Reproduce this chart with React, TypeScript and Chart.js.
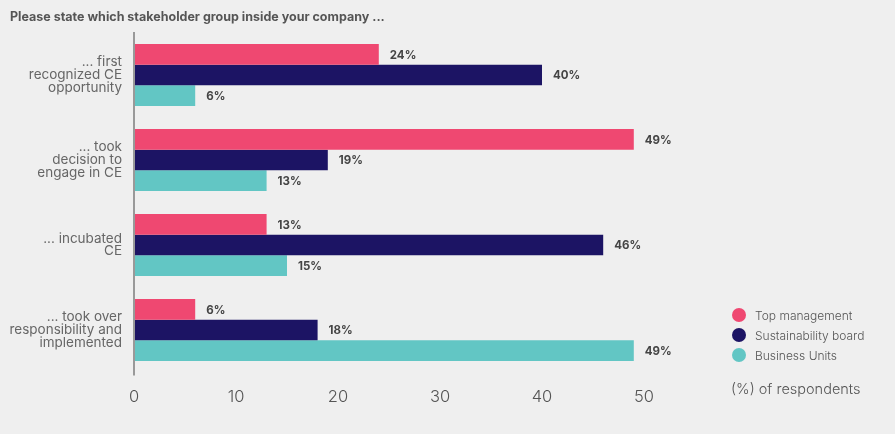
import React, { useEffect, useRef } from "react";
import { Chart, registerables } from "chart.js";

Chart.register(...registerables);

const categories: string[][] = [
  ["... first", "recognized CE", "opportunity"],
  ["... took", "decision to", "engage in CE"],
  ["... incubated", "CE"],
  ["... took over", "responsibility and", "implemented"],
];
const seriesNames = ["Top management", "Sustainability board", "Business Units"];
const topManagement = [24, 49, 13, 6];
const sustainabilityBoard = [40, 19, 46, 18];
const businessUnits = [6, 13, 15, 49];
const colors = ["#ef4871", "#1c1464", "#62c6c4"];
const xTicks = [0, 10, 20, 30, 40, 50];

const FONT = "Inter, 'Noto Sans', sans-serif";

const valueLabels = {
  id: "valueLabels",
  afterDatasetsDraw(chart: any) {
    const ctx = chart.ctx;
    ctx.save();
    ctx.font = `bold 11.5px ${FONT}`;
    ctx.fillStyle = "#444";
    ctx.textAlign = "left";
    ctx.textBaseline = "middle";
    chart.data.datasets.forEach((ds: any, i: number) => {
      const meta = chart.getDatasetMeta(i);
      meta.data.forEach((bar: any, j: number) => {
        ctx.fillText(ds.data[j] + "%", bar.x + 11, bar.y + 1);
      });
    });
    ctx.restore();
  },
};

export default function App() {
  const ref = useRef<HTMLCanvasElement>(null);
  useEffect(() => {
    const seriesData = [topManagement, sustainabilityBoard, businessUnits];
    const chart = new Chart(ref.current!, {
      type: "bar",
      data: {
        labels: categories,
        datasets: seriesNames.map((n, i) => ({
          label: n,
          data: seriesData[i],
          backgroundColor: colors[i],
          borderWidth: 0,
          categoryPercentage: 0.73,
          barPercentage: 1.0,
        })),
      },
      options: {
        indexAxis: "y",
        animation: false,
        responsive: false,
        maintainAspectRatio: false,
        layout: { padding: { top: 32.5, right: 251, left: 0, bottom: 0 } },
        plugins: { legend: { display: false }, tooltip: { enabled: false } },
        scales: {
          x: {
            min: 0,
            max: 50,
            afterFit(scale: any) {
              scale.height = 61.5;
            },
            afterBuildTicks(scale: any) {
              scale.ticks = xTicks.map((v) => ({ value: v }));
            },
            border: { display: false },
            grid: {
              display: true,
              drawOnChartArea: false,
              drawTicks: true,
              tickLength: 3,
              lineWidth: 2,
              color: (c: any) => (c.tick && c.tick.value === 0 ? "#999" : "transparent"),
            },
            ticks: {
              padding: 12,
              color: "#555",
              font: { family: FONT, size: 16.5, weight: "300" },
            },
          },
          y: {
            afterFit(scale: any) {
              scale.width = 134;
            },
            border: { display: true, color: "#999", width: 2 },
            grid: { display: false },
            ticks: {
              padding: 4,
              color: "#666",
              font: { family: FONT, size: 13.5, weight: "400", lineHeight: 0.94 },
            },
          },
        },
      } as any,
      plugins: [valueLabels],
    });
    return () => chart.destroy();
  }, []);

  return (
    <div
      style={{
        position: "fixed",
        left: 0,
        top: 0,
        width: 895,
        height: 434,
        background: "#efefef",
        fontFamily: FONT,
      }}
    >
      <canvas ref={ref} width={895} height={434} style={{ position: "absolute", left: 0, top: 0 }} />
      <div
        style={{
          position: "absolute",
          left: 10,
          top: 9,
          fontSize: 12.5,
          fontWeight: 700,
          color: "#555",
          whiteSpace: "nowrap",
        }}
      >
        Please state which stakeholder group inside your company ...
      </div>
      {seriesNames.map((n, i) => (
        <div
          key={n}
          style={{
            position: "absolute",
            left: 732,
            top: 305 + i * 20,
            height: 20,
            display: "flex",
            alignItems: "center",
            fontSize: 12,
            fontWeight: 300,
            color: "#555",
            whiteSpace: "nowrap",
          }}
        >
          <span
            style={{
              display: "inline-block",
              width: 14,
              height: 14,
              borderRadius: 7,
              background: colors[i],
              marginRight: 9,
            }}
          />
          {n}
        </div>
      ))}
      <div
        style={{
          position: "absolute",
          left: 731,
          top: 380,
          fontSize: 14.5,
          fontWeight: 300,
          color: "#555",
          whiteSpace: "nowrap",
        }}
      >
        (%) of respondents
      </div>
    </div>
  );
}
